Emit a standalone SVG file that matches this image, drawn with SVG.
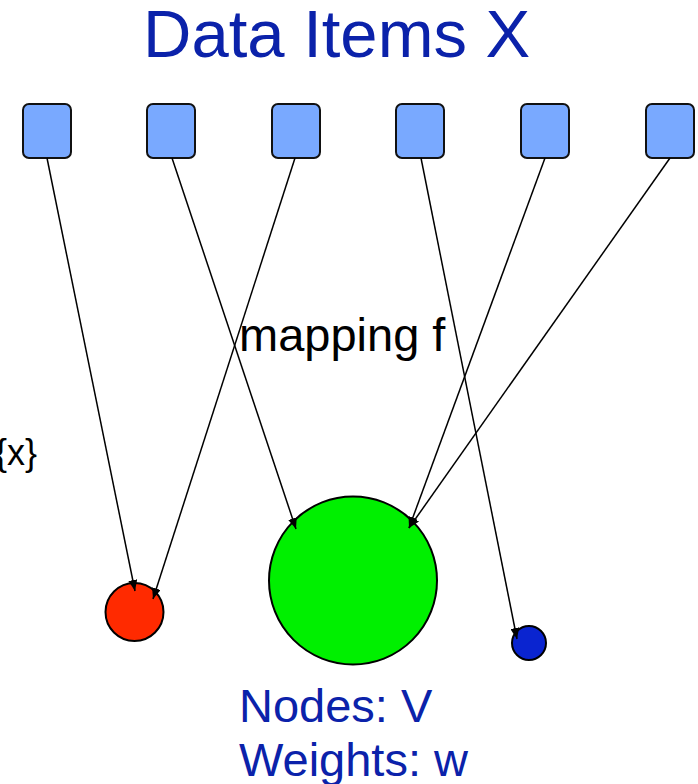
<svg xmlns="http://www.w3.org/2000/svg" width="698" height="784" viewBox="0 0 698 784">
  <style>
    .item { fill: #79a9ff; stroke: #111; stroke-width: 2; }
    .edge { stroke: #000; stroke-width: 1.5; fill: none; marker-end: url(#arrow); }
    .node { stroke: #000; stroke-width: 2; }
    .blue { font-family: "Liberation Sans", Arial, sans-serif; fill: #0b22aa; }
    .black { font-family: "Liberation Sans", Arial, sans-serif; fill: #000; }
  </style>
  <defs>
    <marker id="arrow" markerUnits="userSpaceOnUse" markerWidth="12" markerHeight="9" refX="11" refY="4.5" orient="auto">
      <path d="M0,0 L11,4.5 L0,9 z" fill="#000"/>
    </marker>
  </defs>

  <rect width="698" height="784" fill="#fff"/>

  <text class="blue" x="143" y="57" font-size="67">Data Items X</text>

  <!-- data items -->
  <g id="item1"><rect class="item" x="23" y="104" width="48" height="54" rx="6"/></g>
  <g id="item2"><rect class="item" x="147" y="104" width="48" height="54" rx="6"/></g>
  <g id="item3"><rect class="item" x="272" y="104" width="48" height="54" rx="6"/></g>
  <g id="item4"><rect class="item" x="396" y="104" width="48" height="54" rx="6"/></g>
  <g id="item5"><rect class="item" x="521" y="104" width="48" height="54" rx="6"/></g>
  <g id="item6"><rect class="item" x="646" y="104" width="48" height="54" rx="6"/></g>

  <!-- nodes -->
  <g id="nodeRed"><circle class="node" cx="134.5" cy="612" r="29" fill="#ff2a00"/></g>
  <g id="nodeGreen"><circle class="node" cx="353" cy="580.5" r="84" fill="#00f000"/></g>
  <g id="nodeBlue"><circle class="node" cx="529" cy="643" r="17" fill="#0a24d0"/></g>

  <!-- mapping edges -->
  <g id="edges">
    <line class="edge" x1="47" y1="158" x2="135" y2="591"/>
    <line class="edge" x1="172" y1="158" x2="296" y2="529"/>
    <line class="edge" x1="295" y1="158" x2="153" y2="599"/>
    <line class="edge" x1="421" y1="158" x2="517" y2="639"/>
    <line class="edge" x1="545" y1="158" x2="409" y2="528"/>
    <line class="edge" x1="670" y1="158" x2="409" y2="528"/>
  </g>

  <text class="black" x="239" y="351" font-size="47">mapping f</text>
  <text class="black" x="-5" y="465" font-size="36">{x}</text>

  <text class="blue" x="239" y="722" font-size="47">Nodes: V</text>
  <text class="blue" x="239" y="776" font-size="47">Weights: w</text>
</svg>
